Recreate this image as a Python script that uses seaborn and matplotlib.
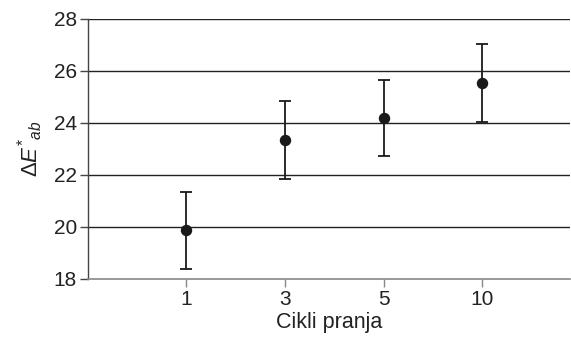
import numpy as np
import pandas as pd
import matplotlib
matplotlib.use("Agg")
import matplotlib.pyplot as plt
import seaborn as sns

ciklusi = ["1", "3", "5", "10"]
delta_e = [19.87, 23.36, 24.18, 25.53]
greska = [1.48, 1.5, 1.47, 1.5]

df = pd.DataFrame({"Ciklus": ciklusi, "dE": delta_e, "err": greska})

sns.set_style("white")
plt.rcParams["font.family"] = ["Liberation Sans", "DejaVu Sans"]
plt.rcParams["mathtext.fontset"] = "custom"
plt.rcParams["mathtext.rm"] = "Liberation Sans"
plt.rcParams["mathtext.it"] = "Liberation Sans:italic"

fig, ax = plt.subplots(figsize=(5.71, 3.43), dpi=100)
fig.subplots_adjust(left=0.154, right=0.998, top=0.945, bottom=0.187)

for y in [20, 22, 24, 26, 28]:
    ax.axhline(y, color="#222222", lw=1.0, zorder=0)

sns.pointplot(data=df, x="Ciklus", y="dE", linestyle="none", color="#1a1a1a",
              markersize=6.2, errorbar=None, ax=ax)
ax.errorbar(np.arange(len(ciklusi)), df["dE"], yerr=df["err"], fmt="none",
            ecolor="#1a1a1a", elinewidth=1.3, capsize=4.5, capthick=1.3)

ax.set_ylim(18, 28)
ax.set_xlim(-1.0, 3.89)
ax.set_yticks([18, 20, 22, 24, 26, 28])
ax.set_xlabel("Cikli pranja", fontsize=15.5, color="#222222", labelpad=2)
ax.set_ylabel(r"$\Delta E^{*}{}_{ab}$", fontsize=16, color="#222222", labelpad=6)
ax.tick_params(axis="both", labelsize=15, colors="#222222", length=6, width=1,
               direction="out", left=True, bottom=True, pad=2)
ax.tick_params(axis="x", color="#888888")
ax.tick_params(axis="y", color="#444444")
for s in ["top", "right"]:
    ax.spines[s].set_visible(False)
ax.spines["left"].set_color("#444444")
ax.spines["bottom"].set_color("#888888")
ax.spines["left"].set_linewidth(1.0)
ax.spines["bottom"].set_linewidth(1.2)

fig.savefig("out.png", dpi=100)
